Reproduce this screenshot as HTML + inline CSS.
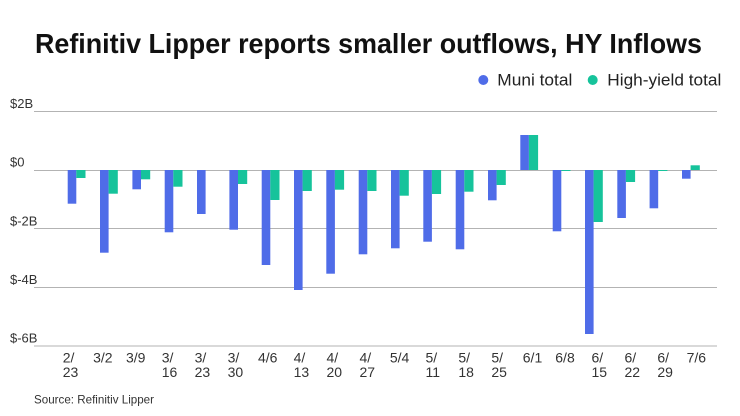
<!DOCTYPE html>
<html><head><meta charset="utf-8"><style>
html,body{margin:0;padding:0;background:#fff;}
svg{display:block;font-family:"Liberation Sans",sans-serif;}
</style></head><body>
<svg width="740" height="416" viewBox="0 0 740 416" xmlns="http://www.w3.org/2000/svg">
<rect width="740" height="416" fill="#fff"/>
<text x="35" y="53" font-size="28" font-weight="bold" fill="#111" textLength="667" lengthAdjust="spacingAndGlyphs">Refinitiv Lipper reports smaller outflows, HY Inflows</text>
<circle cx="483.3" cy="80" r="5" fill="#4f6ce8"/>
<text x="497.3" y="85.5" font-size="17" fill="#222" textLength="75" lengthAdjust="spacingAndGlyphs">Muni total</text>
<circle cx="592.7" cy="80" r="5" fill="#16c39b"/>
<text x="607.3" y="85.5" font-size="17" fill="#222" textLength="114" lengthAdjust="spacingAndGlyphs">High-yield total</text>
<g stroke="#b3b3b3" stroke-width="1">
<line x1="34" y1="111.5" x2="717" y2="111.5"/>
<line x1="34" y1="170.5" x2="717" y2="170.5"/>
<line x1="34" y1="228.5" x2="717" y2="228.5"/>
<line x1="34" y1="287.5" x2="717" y2="287.5"/>
<line x1="34" y1="346" x2="717" y2="346"/>
</g>
<g font-size="13" fill="#333">
<text x="10" y="108">$2B</text>
<text x="10" y="166.5">$0</text>
<text x="10" y="225.5">$-2B</text>
<text x="10" y="284">$-4B</text>
<text x="10" y="342.5">$-6B</text>
</g>
<g fill="#4f6ce8">
<rect x="67.7" y="170" width="8.6" height="33.7"/>
<rect x="100.0" y="170" width="8.6" height="82.7"/>
<rect x="132.4" y="170" width="8.6" height="19.3"/>
<rect x="164.7" y="170" width="8.6" height="62.3"/>
<rect x="197.0" y="170" width="8.6" height="44"/>
<rect x="229.4" y="170" width="8.6" height="59.7"/>
<rect x="261.7" y="170" width="8.6" height="95"/>
<rect x="294.0" y="170" width="8.6" height="120"/>
<rect x="326.3" y="170" width="8.6" height="103.7"/>
<rect x="358.7" y="170" width="8.6" height="84.3"/>
<rect x="391.0" y="170" width="8.6" height="78.3"/>
<rect x="423.3" y="170" width="8.6" height="71.7"/>
<rect x="455.7" y="170" width="8.6" height="79.3"/>
<rect x="488.0" y="170" width="8.6" height="30.3"/>
<rect x="520.3" y="135" width="8.6" height="35"/>
<rect x="552.7" y="170" width="8.6" height="61.3"/>
<rect x="585.0" y="170" width="8.6" height="164"/>
<rect x="617.3" y="170" width="8.6" height="48"/>
<rect x="649.6" y="170" width="8.6" height="38.3"/>
<rect x="682.0" y="170" width="8.6" height="8.7"/>
</g>
<g fill="#16c39b">
<rect x="76.3" y="170" width="9.2" height="8"/>
<rect x="108.6" y="170" width="9.2" height="23.7"/>
<rect x="141.0" y="170" width="9.2" height="9.3"/>
<rect x="173.3" y="170" width="9.2" height="16.7"/>
<rect x="238.0" y="170" width="9.2" height="14"/>
<rect x="270.3" y="170" width="9.2" height="30"/>
<rect x="302.6" y="170" width="9.2" height="21"/>
<rect x="334.9" y="170" width="9.2" height="19.7"/>
<rect x="367.3" y="170" width="9.2" height="21"/>
<rect x="399.6" y="170" width="9.2" height="25.7"/>
<rect x="431.9" y="170" width="9.2" height="24"/>
<rect x="464.3" y="170" width="9.2" height="21.7"/>
<rect x="496.6" y="170" width="9.2" height="15"/>
<rect x="528.9" y="135" width="9.2" height="35"/>
<rect x="561.3" y="170" width="9.2" height="1"/>
<rect x="593.6" y="170" width="9.2" height="52"/>
<rect x="625.9" y="170" width="9.2" height="12"/>
<rect x="658.2" y="170" width="9.2" height="1"/>
<rect x="690.6" y="165.3" width="9.2" height="4.7"/>
</g>
<g font-size="14" fill="#333">
<text x="62.7" y="362.5">2/</text><text x="62.7" y="377">23</text>
<text x="102.8" y="362.5" text-anchor="middle">3/2</text>
<text x="135.7" y="362.5" text-anchor="middle">3/9</text>
<text x="161.7" y="362.5">3/</text><text x="161.7" y="377">16</text>
<text x="194.6" y="362.5">3/</text><text x="194.6" y="377">23</text>
<text x="227.6" y="362.5">3/</text><text x="227.6" y="377">30</text>
<text x="267.7" y="362.5" text-anchor="middle">4/6</text>
<text x="293.6" y="362.5">4/</text><text x="293.6" y="377">13</text>
<text x="326.5" y="362.5">4/</text><text x="326.5" y="377">20</text>
<text x="359.5" y="362.5">4/</text><text x="359.5" y="377">27</text>
<text x="399.6" y="362.5" text-anchor="middle">5/4</text>
<text x="425.5" y="362.5">5/</text><text x="425.5" y="377">11</text>
<text x="458.4" y="362.5">5/</text><text x="458.4" y="377">18</text>
<text x="491.4" y="362.5">5/</text><text x="491.4" y="377">25</text>
<text x="532.5" y="362.5" text-anchor="middle">6/1</text>
<text x="565" y="362.5" text-anchor="middle">6/8</text>
<text x="591.5" y="362.5">6/</text><text x="591.5" y="377">15</text>
<text x="624.5" y="362.5">6/</text><text x="624.5" y="377">22</text>
<text x="657.4" y="362.5">6/</text><text x="657.4" y="377">29</text>
<text x="696.3" y="362.5" text-anchor="middle">7/6</text>
</g>
<text x="34" y="403.5" font-size="12" fill="#333" textLength="120" lengthAdjust="spacingAndGlyphs">Source: Refinitiv Lipper</text>
</svg>
</body></html>
